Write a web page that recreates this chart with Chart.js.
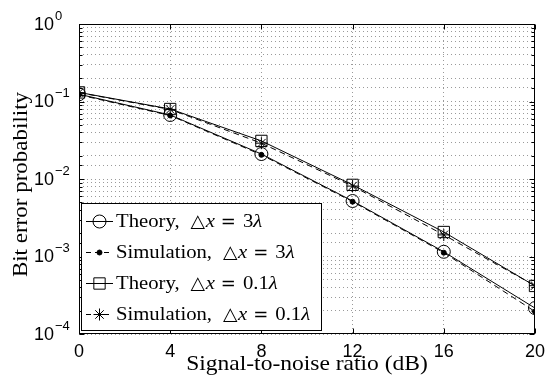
<!DOCTYPE html>
<html><head><meta charset="utf-8">
<script src="https://cdn.jsdelivr.net/npm/chart.js@4"></script>
<style>html,body{margin:0;padding:0;background:#fff}#wrap{width:552px;height:377px}</style>
</head><body><div id="wrap"><canvas id="c" width="552" height="377"></canvas></div>
<script>
// ---- data ----
const snr = [0, 4, 8, 12, 16, 20];
const theory3 = [0.124, 0.067, 0.021, 0.0052, 0.00115, 0.000216];
const sim3 = [0.122, 0.066, 0.0205, 0.0051, 0.00112, 0.000195];
const theory01 = [0.131, 0.080, 0.031, 0.0084, 0.00207, 0.000417];
const sim01 = [0.130, 0.079, 0.029, 0.0081, 0.0019, 0.00042];
const xTicks = [0, 4, 8, 12, 16, 20];
const yExponents = [0, -1, -2, -3, -4];
const seriesWords = ['Theory,', 'Simulation,', 'Theory,', 'Simulation,'];
const seriesSpacing = ['3', '3', '0.1', '0.1'];
const seriesLabels = seriesWords.map((w, i) => w + ' △x = ' + seriesSpacing[i] + 'λ');
const xTitle = 'Signal-to-noise ratio (dB)';
const yTitle = 'Bit error probability';

const SANS = '"Liberation Sans", Arial, sans-serif';
const SERIF = '"Liberation Serif", "Times New Roman", serif';
const SYM = '"DejaVu Sans", sans-serif';

function pts(ys) { return snr.map((x, i) => ({x: x, y: ys[i]})); }

const styles = [
  {pointStyle: 'circle', pointRadius: 6.5, fill: 'rgba(0,0,0,0)', dash: []},
  {pointStyle: 'circle', pointRadius: 2.5, fill: '#000', dash: [6, 4]},
  {pointStyle: 'rect', pointRadius: 8, fill: 'rgba(0,0,0,0)', dash: []},
  {pointStyle: 'star', pointRadius: 6, fill: 'rgba(0,0,0,0)', dash: [6, 4]}
];
const series = [theory3, sim3, theory01, sim01];

const datasets = series.map((s, i) => ({
  label: seriesLabels[i],
  data: pts(s),
  borderColor: '#000',
  borderWidth: 1,
  borderDash: styles[i].dash,
  pointStyle: styles[i].pointStyle,
  pointRadius: styles[i].pointRadius,
  pointBackgroundColor: styles[i].fill,
  pointBorderColor: '#000',
  pointBorderWidth: 1,
  tension: 0,
  fill: false
}));

function drawMarker(ctx, style, r, fill, x, y) {
  ctx.save();
  ctx.strokeStyle = '#000'; ctx.lineWidth = 1; ctx.setLineDash([]);
  ctx.fillStyle = fill;
  ctx.beginPath();
  if (style === 'circle') {
    ctx.arc(x, y, r, 0, Math.PI * 2);
    ctx.fill(); ctx.stroke();
  } else if (style === 'rect') {
    const s = r * Math.SQRT1_2;
    ctx.rect(x - s, y - s, 2 * s, 2 * s);
    ctx.fill(); ctx.stroke();
  } else if (style === 'star') {
    ctx.moveTo(x - r, y); ctx.lineTo(x + r, y);
    ctx.moveTo(x, y - r); ctx.lineTo(x, y + r);
    const d = r * Math.SQRT1_2;
    ctx.moveTo(x - d, y - d); ctx.lineTo(x + d, y + d);
    ctx.moveTo(x - d, y + d); ctx.lineTo(x + d, y - d);
    ctx.stroke();
  }
  ctx.restore();
}

// draws text stretched horizontally by sx, returns advanced width
function stretched(ctx, text, x, y, font, sx) {
  ctx.font = font;
  const w = ctx.measureText(text).width * sx;
  ctx.save();
  ctx.translate(x, y);
  ctx.scale(sx, 1);
  ctx.fillText(text, 0, 0);
  ctx.restore();
  return w;
}

function drawLegendText(ctx, word, num, x, y) {
  const SX = 1.15;
  let cx = x;
  cx += stretched(ctx, word, cx, y, '18px ' + SERIF, SX);
  cx += 11;
  cx += stretched(ctx, '△', cx, y, '18px ' + SYM, 1.05);
  cx += 0.5;
  cx += stretched(ctx, 'x', cx, y, 'italic 18px ' + SERIF, SX);
  cx += 6;
  cx += stretched(ctx, '=', cx, y, '18px ' + SYM, 1.0);
  cx += 7;
  cx += stretched(ctx, num, cx, y, '18px ' + SERIF, SX);
  cx += stretched(ctx, 'λ', cx, y, 'italic 18px ' + SERIF, SX);
}

const decor = {
  id: 'decor',
  afterDraw(chart) {
    const ctx = chart.ctx;
    const ca = chart.chartArea;
    const ys = chart.scales.y, xs = chart.scales.x;
    ctx.save();
    ctx.strokeStyle = '#000'; ctx.lineWidth = 1; ctx.setLineDash([]);
    const L = Math.round(ca.left) + 0.5, R = Math.round(ca.right) - 0.5;
    const T = Math.round(ca.top) + 0.5, B = Math.round(ca.bottom) - 0.5;
    // inward ticks
    ctx.beginPath();
    ys.ticks.forEach(t => {
      const py = Math.round(ys.getPixelForValue(t.value)) + 0.5;
      const m = Math.abs(Math.log10(t.value) - Math.round(Math.log10(t.value))) < 1e-9;
      const len = m ? 5 : 3;
      ctx.moveTo(L, py); ctx.lineTo(L + len, py);
      ctx.moveTo(R, py); ctx.lineTo(R - len, py);
    });
    xTicks.forEach(v => {
      const px = Math.round(xs.getPixelForValue(v)) + 0.5;
      ctx.moveTo(px, B); ctx.lineTo(px, B - 5);
      ctx.moveTo(px, T); ctx.lineTo(px, T + 5);
    });
    ctx.stroke();
    // frame
    ctx.strokeRect(L, T, R - L, B - T);
    // y tick labels 10^k
    ctx.fillStyle = '#000';
    ctx.textBaseline = 'middle'; ctx.textAlign = 'left';
    yExponents.forEach(k => {
      const py = ys.getPixelForValue(Math.pow(10, k));
      ctx.font = '18px ' + SANS;
      ctx.fillText('10', 34, py + 1);
      const w = ctx.measureText('10').width;
      ctx.font = '13px ' + SANS;
      ctx.fillText(k === 0 ? '0' : '−' + Math.abs(k), 34 + w + 1, py - 8);
    });
    // axis titles (serif, stretched to match reference metrics)
    ctx.textAlign = 'center'; ctx.textBaseline = 'alphabetic';
    ctx.font = '21px ' + SERIF;
    ctx.save();
    ctx.translate(307, 369.5); ctx.scale(1.12, 1);
    ctx.fillText(xTitle, 0, 0);
    ctx.restore();
    ctx.font = '20px ' + SERIF;
    ctx.save();
    ctx.translate(27, 184.5); ctx.rotate(-Math.PI / 2); ctx.scale(1.15, 1);
    ctx.fillText(yTitle, 0, 0);
    ctx.restore();
    // legend
    const bx = 81.5, by = 203.5, bw = 240, bh = 127;
    ctx.fillStyle = '#fff';
    ctx.fillRect(bx, by, bw, bh);
    ctx.strokeRect(bx, by, bw, bh);
    const rowY = [221, 252, 283, 314];
    seriesWords.forEach((word, i) => {
      const y = rowY[i];
      ctx.save();
      ctx.setLineDash(styles[i].dash.length ? [5, 4] : []);
      ctx.beginPath(); ctx.moveTo(86, y + 0.5); ctx.lineTo(113, y + 0.5); ctx.stroke();
      ctx.restore();
      drawMarker(ctx, styles[i].pointStyle, styles[i].pointRadius, styles[i].fill, 99.5, y + 0.5);
      ctx.fillStyle = '#000';
      ctx.textBaseline = 'middle'; ctx.textAlign = 'left';
      drawLegendText(ctx, word, seriesSpacing[i], 116, y + 1);
    });
    ctx.restore();
  }
};

new Chart(document.getElementById('c'), {
  type: 'line',
  data: {datasets: datasets},
  options: {
    responsive: false, animation: false, devicePixelRatio: 1,
    layout: {padding: {left: 0, right: 13, top: 24, bottom: 0}},
    plugins: {legend: {display: false}, tooltip: {enabled: false}},
    scales: {
      x: {
        type: 'linear', min: 0, max: 20,
        afterBuildTicks: s => { s.ticks = xTicks.map(v => ({value: v})); },
        afterFit: s => { s.height = 43; },
        grid: {color: '#9a9a9a', lineWidth: 1, drawTicks: false},
        border: {display: false, dash: [1, 3]},
        ticks: {font: {family: SANS, size: 18}, color: '#000', padding: 7, maxRotation: 0, autoSkip: false},
        title: {display: false, text: xTitle}
      },
      y: {
        type: 'logarithmic', min: 1e-4, max: 1,
        afterFit: s => { s.width = 79; },
        grid: {color: '#9a9a9a', lineWidth: 1, drawTicks: false},
        border: {display: false, dash: [1, 3]},
        ticks: {callback: () => '', autoSkip: false},
        title: {display: false, text: yTitle}
      }
    }
  },
  plugins: [decor]
});
</script>
</body></html>
